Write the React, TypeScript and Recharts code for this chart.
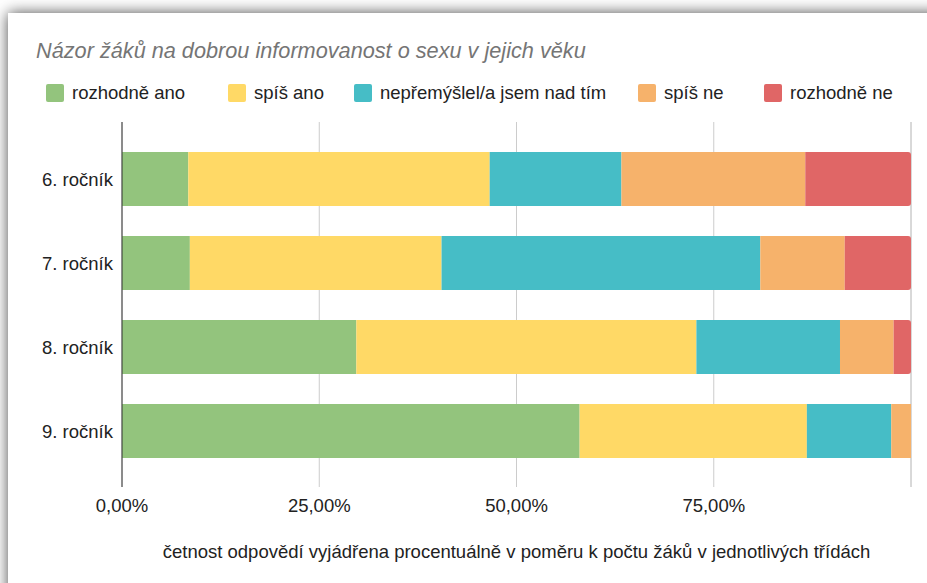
import { BarChart, Bar, XAxis, YAxis, CartesianGrid, Label } from "recharts";

// Google Sheets style 100% stacked horizontal bars
const categories = ["6. ročník", "7. ročník", "8. ročník", "9. ročník"];
const seriesNames = [
  "rozhodně ano",
  "spíš ano",
  "nepřemýšlel/a jsem nad tím",
  "spíš ne",
  "rozhodně ne",
];
const rozhodneAno = [8.4, 8.6, 29.7, 58.0];
const spisAno = [38.2, 31.9, 43.1, 28.8];
const nepremyslel = [16.7, 40.4, 18.2, 10.7];
const spisNe = [23.3, 10.7, 6.8, 2.5];
const rozhodneNe = [13.4, 8.4, 2.2, 0];
const xTicks = [0, 25, 50, 75, 100];

const title = "Názor žáků na dobrou informovanost o sexu v jejich věku";
const xTitle =
  "četnost odpovědí vyjádřena procentuálně v poměru k počtu žáků v jednotlivých třídách";

const colors = ["#93c47d", "#ffd966", "#46bdc6", "#f6b26b", "#e06666"];
const legendLeft = [46, 228, 354, 638, 764];

const seriesValues = [rozhodneAno, spisAno, nepremyslel, spisNe, rozhodneNe];
const keys = ["s0", "s1", "s2", "s3", "s4"];

const data = categories.map((name, i) => {
  const row: Record<string, string | number> = { name };
  seriesValues.forEach((vals, s) => {
    row[keys[s]] = vals[i];
  });
  return row;
});

const FONT = '"Liberation Sans", Arial, Helvetica, sans-serif';

const formatPct = (v: number) =>
  v === 100 ? "" : `${v.toFixed(2).replace(".", ",")}%`;

export default function App() {
  return (
    <div
      style={{
        position: "absolute",
        left: 0,
        top: 0,
        width: 927,
        height: 583,
        overflow: "hidden",
        background: "#fff",
        fontFamily: FONT,
      }}
    >
      {/* card with shadow */}
      <div
        style={{
          position: "absolute",
          left: 8,
          top: 13,
          width: 960,
          height: 620,
          background: "#fff",
          boxShadow: "0 0 14px rgba(0,0,0,0.7)",
        }}
      />
      <div
        style={{
          position: "absolute",
          left: 36,
          top: 38,
          fontSize: 21.7,
          lineHeight: "26px",
          fontStyle: "italic",
          color: "#757575",
          whiteSpace: "nowrap",
        }}
      >
        {title}
      </div>
      {seriesNames.map((n, i) => (
        <div
          key={n}
          style={{
            position: "absolute",
            left: legendLeft[i],
            top: 83,
            height: 20,
            display: "flex",
            alignItems: "center",
            whiteSpace: "nowrap",
            fontSize: 18.5,
            color: "#222",
          }}
        >
          <span
            style={{
              display: "inline-block",
              width: 18,
              height: 18,
              borderRadius: 2,
              background: colors[i],
              marginRight: 8,
            }}
          />
          {n}
        </div>
      ))}
      <div style={{ position: "absolute", left: 0, top: 0 }}>
        <BarChart
          width={927}
          height={583}
          data={data}
          layout="vertical"
          margin={{ top: 122, right: 16, bottom: 0, left: 0 }}
        >
          <CartesianGrid horizontal={false} stroke="#cccccc" />
          <XAxis
            type="number"
            domain={[0, 100]}
            ticks={xTicks}
            tickFormatter={formatPct}
            axisLine={false}
            tickLine={false}
            tickSize={0}
            tickMargin={12}
            height={96}
            tick={{ fill: "#222", fontSize: 18.5, fontFamily: FONT }}
          >
            <Label
              value={xTitle}
              position="insideBottom"
              offset={25}
              fill="#222"
              fontSize={18.5}
              fontFamily={FONT}
            />
          </XAxis>
          <YAxis
            type="category"
            dataKey="name"
            width={122}
            padding={{ top: 15, bottom: 14 }}
            axisLine={{ stroke: "#333", strokeWidth: 1 }}
            tickLine={false}
            tickSize={0}
            tickMargin={9}
            tick={{ fill: "#222", fontSize: 18.5, fontFamily: FONT }}
          />
          {keys.map((k, i) => (
            <Bar
              key={k}
              dataKey={k}
              name={seriesNames[i]}
              stackId="a"
              fill={colors[i]}
              barSize={54}
              radius={i === 4 ? [0, 3, 3, 0] : 0}
              isAnimationActive={false}
            />
          ))}
        </BarChart>
      </div>
    </div>
  );
}
